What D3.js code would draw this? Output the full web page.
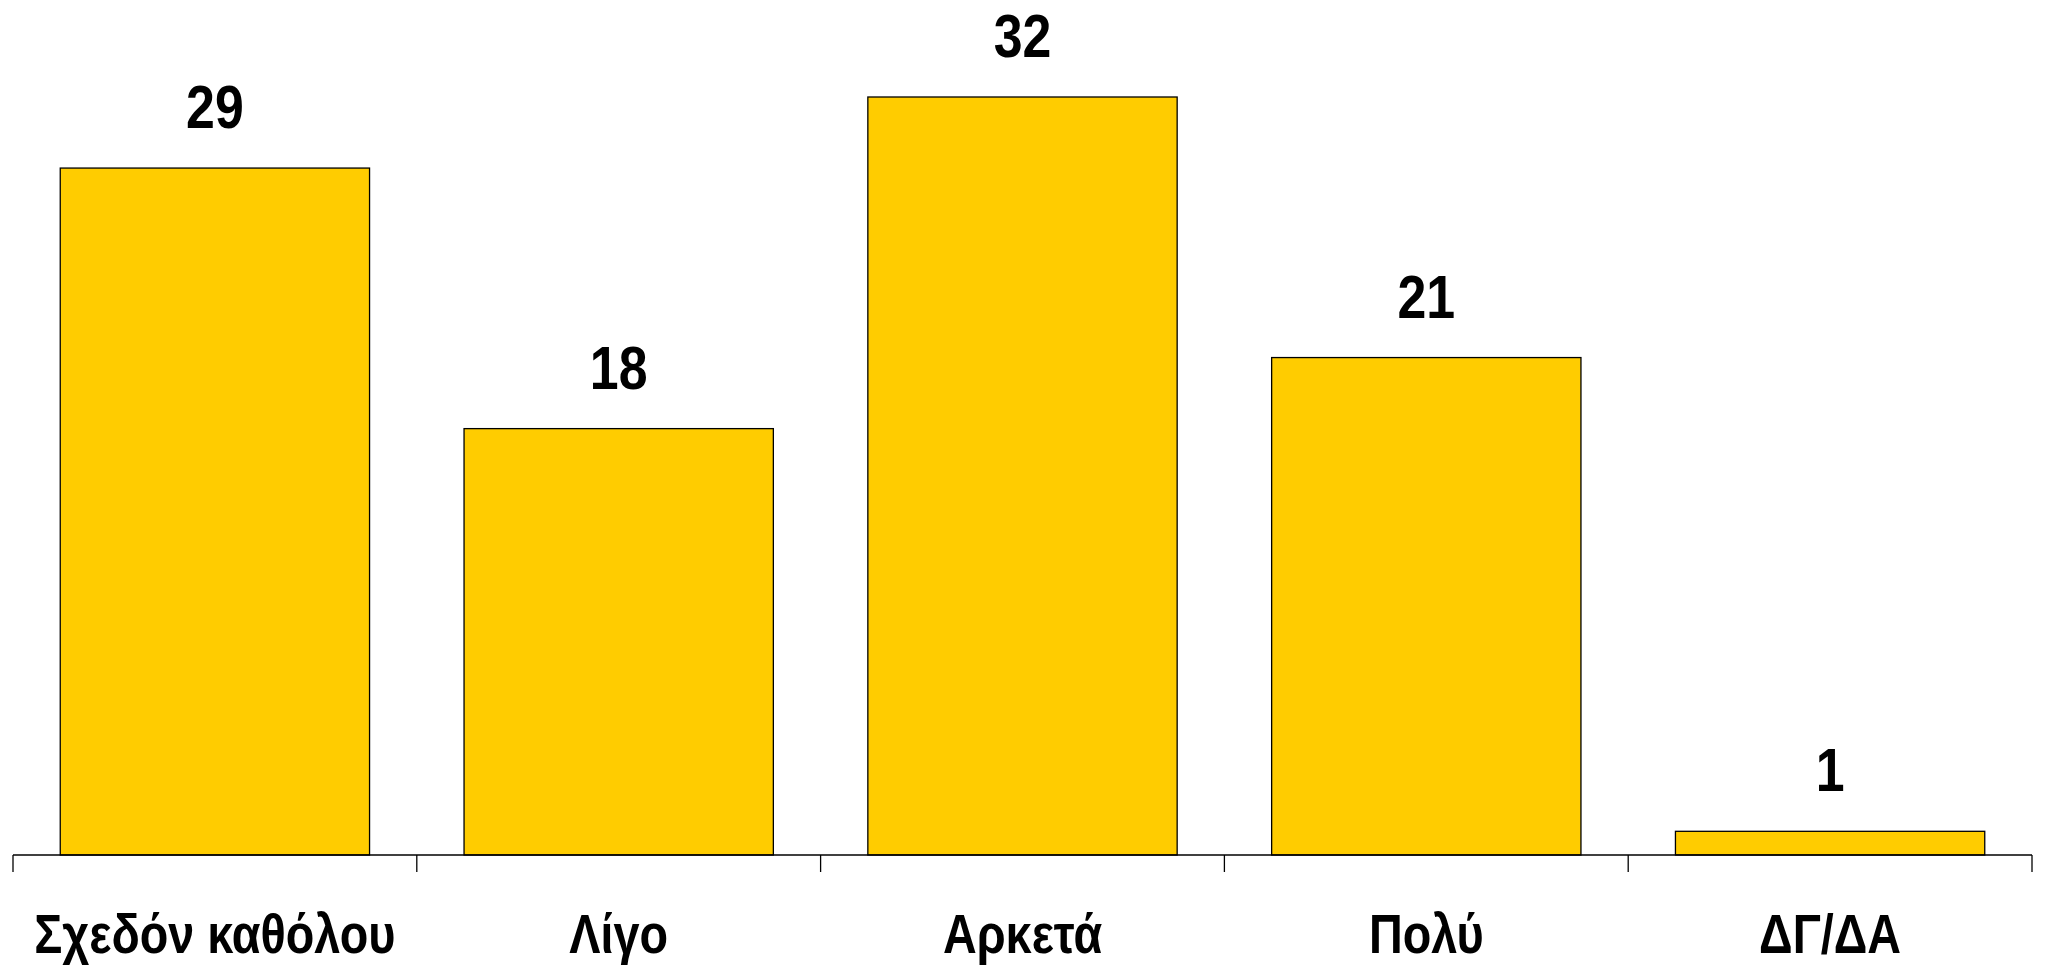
<!DOCTYPE html>
<meta charset="utf-8">
<style>
body { margin: 0; background: #fff; }
.bar { fill: #ffcc00; stroke: #000; stroke-width: 1.3; }
.value, .cat {
  font-family: "Liberation Sans", Arial, sans-serif;
  font-weight: bold;
  fill: #000;
  text-anchor: middle;
}
.value { font-size: 61px; }
.cat { font-size: 55px; }
.axis path, .axis line { stroke: #000; stroke-width: 1.3; fill: none; }
</style>
<body>
<script src="https://cdn.jsdelivr.net/npm/d3@7"></script>
<script>
// data
var categories = ["Σχεδόν καθόλου", "Λίγο", "Αρκετά", "Πολύ", "ΔΓ/ΔΑ"];
var values = [29, 18, 32, 21, 1];

var width = 2047, height = 966;
var squeeze = 0.85; // no narrow font installed, condense the glyphs instead

var svg = d3.select("body").append("svg")
    .attr("width", width)
    .attr("height", height);

// x: band over the axis span, bars centred in each band
var x = d3.scaleBand()
    .domain(categories)
    .range([13, 2032])
    .paddingInner(0.234)
    .paddingOuter(0.117);

// y: 0 at the axis line
var y = d3.scaleLinear()
    .domain([0, 32])
    .range([855, 97]);

var data = categories.map(function(c, i) { return {cat: c, val: values[i]}; });

svg.selectAll(".bar")
    .data(data)
  .enter().append("rect")
    .attr("class", "bar")
    .attr("x", function(d) { return x(d.cat); })
    .attr("y", function(d) { return y(d.val); })
    .attr("width", x.bandwidth())
    .attr("height", function(d) { return y(0) - y(d.val); });

// axis line with ticks at band boundaries
var step = x.step();
var tickPos = d3.range(categories.length + 1).map(function(i) { return 13 + i * step; });

var axis = svg.append("g").attr("class", "axis");
axis.append("path")
    .attr("d", "M" + tickPos[0] + "," + y(0) + "H" + tickPos[tickPos.length - 1]);
axis.selectAll("line")
    .data(tickPos)
  .enter().append("line")
    .attr("x1", function(d) { return d; })
    .attr("x2", function(d) { return d; })
    .attr("y1", y(0))
    .attr("y2", y(0) + 17);

function cx(d) { return x(d.cat) + x.bandwidth() / 2; }

// value labels
svg.selectAll(".value")
    .data(data)
  .enter().append("text")
    .attr("class", "value")
    .attr("transform", function(d) {
      return "translate(" + cx(d) + "," + (y(d.val) - 40) + ") scale(" + squeeze + ",1)";
    })
    .text(function(d) { return d.val; });

// category labels
svg.selectAll(".cat")
    .data(data)
  .enter().append("text")
    .attr("class", "cat")
    .attr("transform", function(d) {
      return "translate(" + cx(d) + ",953) scale(" + squeeze + ",1)";
    })
    .text(function(d) { return d.cat; });
</script>
</body>
